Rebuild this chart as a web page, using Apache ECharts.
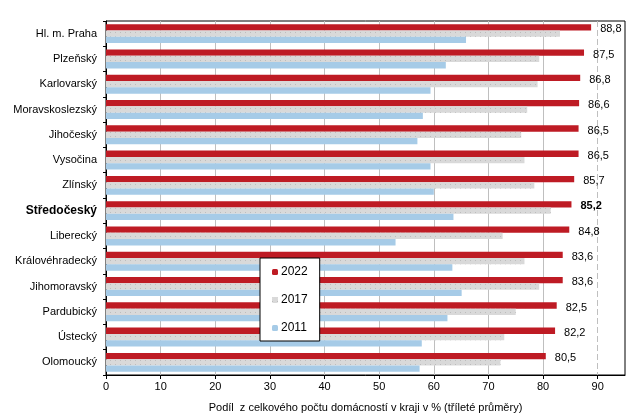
<!DOCTYPE html>
<html>
<head>
<meta charset="utf-8">
<script src="https://cdn.jsdelivr.net/npm/echarts@6/dist/echarts.min.js"></script>
<style>html,body{margin:0;padding:0;background:#fff;}#c{width:643px;height:418px;}</style>
</head>
<body>
<div id="c"></div>
<script>
const categories = ['Hl. m. Praha','Plzeňský','Karlovarský','Moravskoslezský','Jihočeský','Vysočina','Zlínský','Středočeský','Liberecký','Královéhradecký','Jihomoravský','Pardubický','Ústecký','Olomoucký'];
const values2022 = [88.8, 87.5, 86.8, 86.6, 86.5, 86.5, 85.7, 85.2, 84.8, 83.6, 83.6, 82.5, 82.2, 80.5];
const values2017 = [83.1, 79.3, 79.0, 77.1, 76.0, 76.6, 78.4, 81.4, 72.6, 76.6, 79.3, 75.0, 72.9, 72.2];
const values2011 = [65.9, 62.2, 59.4, 58.0, 57.0, 59.4, 60.0, 63.6, 53.0, 63.4, 65.1, 62.5, 57.8, 57.4];
const seriesNames = ['2022', '2017', '2011'];
const highlighted = 'Středočeský';
const gridTicks = [10, 20, 30, 40, 50, 60, 70, 80];
const dashedTick = 90;

const font = 'Liberation Sans, Arial, sans-serif';
const fmt = v => v.toFixed(1).replace('.', ',');

const chart = echarts.init(document.getElementById('c'), null, {renderer: 'canvas'});
const grayDecal = {symbol: 'rect', symbolSize: 1, dashArrayX: [1, 4], dashArrayY: [1, 3], color: '#bdbdbd'};

chart.setOption({
  animation: false,
  textStyle: {fontFamily: font},
  grid: {left: 106, top: 21, right: 18, bottom: 43, show: true, borderColor: '#000', borderWidth: 1, containLabel: false},
  legend: {
    orient: 'vertical', left: 260, top: 258,
    data: seriesNames,
    itemWidth: 6, itemHeight: 6, itemGap: 16,
    padding: [8, 12, 7, 12],
    backgroundColor: '#fff', borderColor: '#000', borderWidth: 1,
    textStyle: {fontSize: 12, color: '#000', fontFamily: font, padding: [0, 0, 0, -2]},
    z: 10
  },
  xAxis: {
    type: 'value', min: 0, max: 95, interval: 10,
    name: 'Podíl  z celkového počtu domácností v kraji v % (tříleté průměry)',
    nameLocation: 'middle', nameGap: 27,
    nameTextStyle: {fontSize: 11, color: '#000', fontFamily: font},
    axisLine: {show: true, lineStyle: {color: '#000'}},
    axisTick: {show: true, length: 4, lineStyle: {color: '#000'}},
    axisLabel: {fontSize: 11, color: '#000', margin: 6, showMaxLabel: false,
      formatter: v => (v % 10 === 0 ? String(v) : '')},
    splitLine: {show: false}
  },
  yAxis: {
    type: 'category', data: categories, inverse: true,
    axisLine: {show: true, lineStyle: {color: '#000'}},
    axisTick: {show: true, length: 3, lineStyle: {color: '#000'}},
    axisLabel: {
      fontSize: 11, color: '#000', margin: 9,
      formatter: v => (v === highlighted ? '{b|' + v + '}' : v),
      rich: {b: {fontSize: 12, fontWeight: 'bold', color: '#000', fontFamily: font}}
    }
  },
  series: [
    {
      name: seriesNames[0], type: 'bar', data: values2022,
      barWidth: 6.3, barGap: '0%',
      itemStyle: {color: '#BE1B24'},
      label: {
        show: true, position: 'right', distance: 9, fontSize: 11, color: '#000', offset: [0, 2],
        formatter: p => (p.name === highlighted ? '{b|' + fmt(p.value) + '}' : fmt(p.value)),
        rich: {b: {fontSize: 11, fontWeight: 'bold', color: '#000', fontFamily: font}}
      },
      z: 3
    },
    {
      name: seriesNames[1], type: 'bar', data: values2017,
      barWidth: 6.3, barGap: '0%',
      itemStyle: {color: '#D9D9D9', decal: grayDecal},
      z: 3
    },
    {
      name: seriesNames[2], type: 'bar', data: values2011,
      barWidth: 6.3, barGap: '0%',
      itemStyle: {color: '#A6CBE7'},
      z: 3,
      markLine: {
        silent: true, symbol: 'none', z: 1, animation: false,
        label: {show: false},
        data: gridTicks.map(t => ({xAxis: t, lineStyle: {color: '#bfbfbf', width: 1, type: 'solid'}}))
          .concat([{xAxis: dashedTick, lineStyle: {color: '#bfbfbf', width: 1, type: [6, 3]}}])
      }
    }
  ]
});
</script>
</body>
</html>
